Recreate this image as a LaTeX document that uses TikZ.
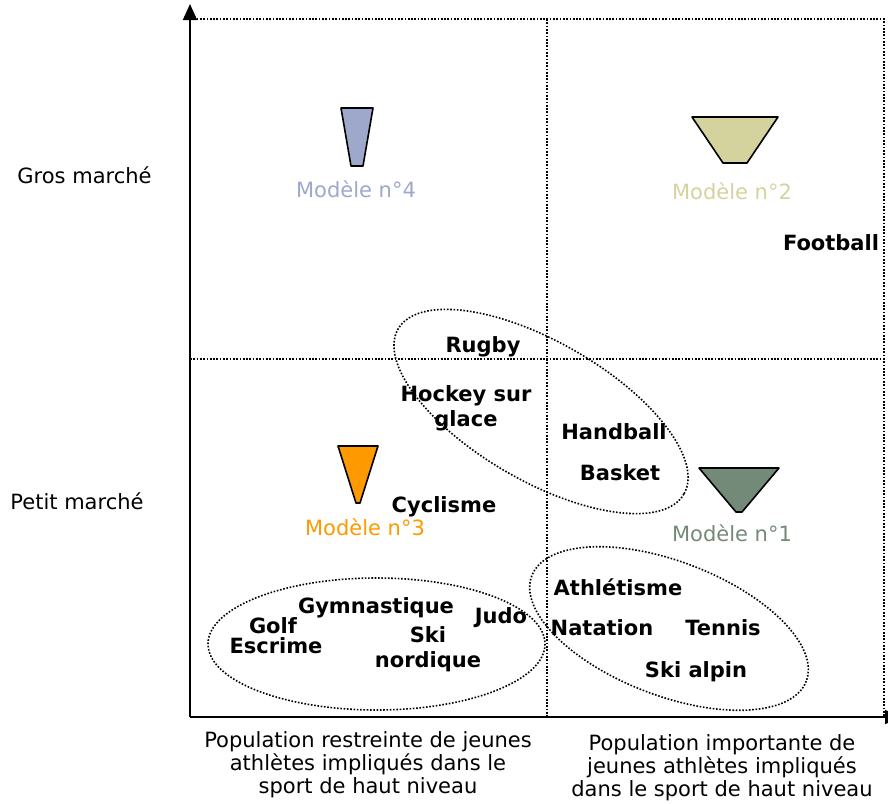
\documentclass[tikz,border=0pt]{standalone}
\usepackage{fontspec}
\setmainfont{DejaVu Sans}
\usetikzlibrary{arrows.meta}
\definecolor{modun}{RGB}{116,138,120}
\definecolor{moddeux}{RGB}{212,211,157}
\definecolor{modtrois}{RGB}{255,153,0}
\definecolor{modquatre}{RGB}{157,168,202}

\begin{document}
\begin{tikzpicture}[x=1pt, y=-1pt, >={Triangle[width=14pt,length=16pt]},
    every node/.style={inner sep=0pt, font=\fontsize{21}{23}\selectfont},
    sport/.style={font=\fontsize{21}{25}\selectfont\bfseries, align=center},
    modlbl/.style={anchor=base},
    axelbl/.style={align=center},
    quad/.style={line width=1.7pt, dash pattern=on 1.7pt off 1.6pt},
    groupe/.style={line width=1.6pt, dash pattern=on 1.6pt off 1.7pt},
    modshape/.style={draw=black, line width=1.6pt, line join=round}]
    \useasboundingbox (0,0) rectangle (888,803);
    % --- axes ---
    \coordinate (O) at (190,717);
    \coordinate (ytop) at (190,4);
    \coordinate (xend) at (901,717);
    \draw[->, line width=1.8pt] (O) -- (ytop);
    \draw[->, line width=1.8pt] (O) -- (xend);
    % --- quadrants (dotted) ---
    \draw[quad] (190,19) -- (884,19) -- (884,717);
    \draw[quad] (547,19) -- (547,717);
    \draw[quad] (190,359) -- (884,359);
    % --- market labels ---
    \node[anchor=base] (gros) at (84.5,183) {Gros marché};
    \node[anchor=base] (petit) at (77,509) {Petit marché};
    % --- population labels ---
    \node[axelbl] (restr) at (368,765) {Population restreinte de jeunes\\athlètes impliqués dans le\\sport de haut niveau};
    \node[axelbl] (import) at (722,768) {Population importante de\\jeunes athlètes impliqués\\dans le sport de haut niveau};
    % --- models: funnels + labels ---
    \draw[modshape, fill=modquatre] (341,108) -- (373,108) -- (363,166) -- (351,166) -- cycle;
    \node[modlbl, text=modquatre] (m4) at (356,197) {Modèle n°4};
    \draw[modshape, fill=moddeux] (692,117) -- (778,117) -- (747,163) -- (723,163) -- cycle;
    \node[modlbl, text=moddeux] (m2) at (732,199) {Modèle n°2};
    \draw[modshape, fill=modtrois] (338,446) -- (378,446) -- (360,503) -- (356,503) -- cycle;
    \node[modlbl, text=modtrois] (m3) at (365,535) {Modèle n°3};
    \draw[modshape, fill=modun] (699,468) -- (779,468) -- (742,512) -- (736,512) -- cycle;
    \node[modlbl, text=modun] (m1) at (732,541) {Modèle n°1};
    % --- sports ---
    \node[sport, anchor=base] (foot) at (831,250) {Football};
    \node[sport, anchor=base] (rugby) at (483,352) {Rugby};
    \node[sport] (hockey) at (466,408) {Hockey sur\\glace};
    \node[sport, anchor=base] (hand) at (614,439) {Handball};
    \node[sport, anchor=base] (basket) at (620,480) {Basket};
    \node[sport, anchor=base] (cycl) at (444,512) {Cyclisme};
    \node[sport, anchor=base] (athle) at (618,595) {Athlétisme};
    \node[sport, anchor=base] (nat) at (602,635) {Natation};
    \node[sport, anchor=base] (tennis) at (723,635) {Tennis};
    \node[sport, anchor=base] (skialp) at (696,677) {Ski alpin};
    \node[sport, anchor=base] (gym) at (376,613) {Gymnastique};
    \node[sport, anchor=base] (golf) at (273,633) {Golf};
    \node[sport, anchor=base] (escr) at (276,653) {Escrime};
    \node[sport, anchor=base] (judo) at (501,623) {Judo};
    \node[sport] (skinord) at (428,649) {Ski\\nordique};
    % --- groups of sports (dotted ellipses) ---
    \draw[groupe] (541,411.5) ellipse[x radius=165, y radius=69.5, rotate=-30];
    \draw[groupe] (376.5,644) ellipse[x radius=168.5, y radius=66];
    \draw[groupe] (669,628.5) ellipse[x radius=147, y radius=67, rotate=-21];
\end{tikzpicture}
\end{document}
